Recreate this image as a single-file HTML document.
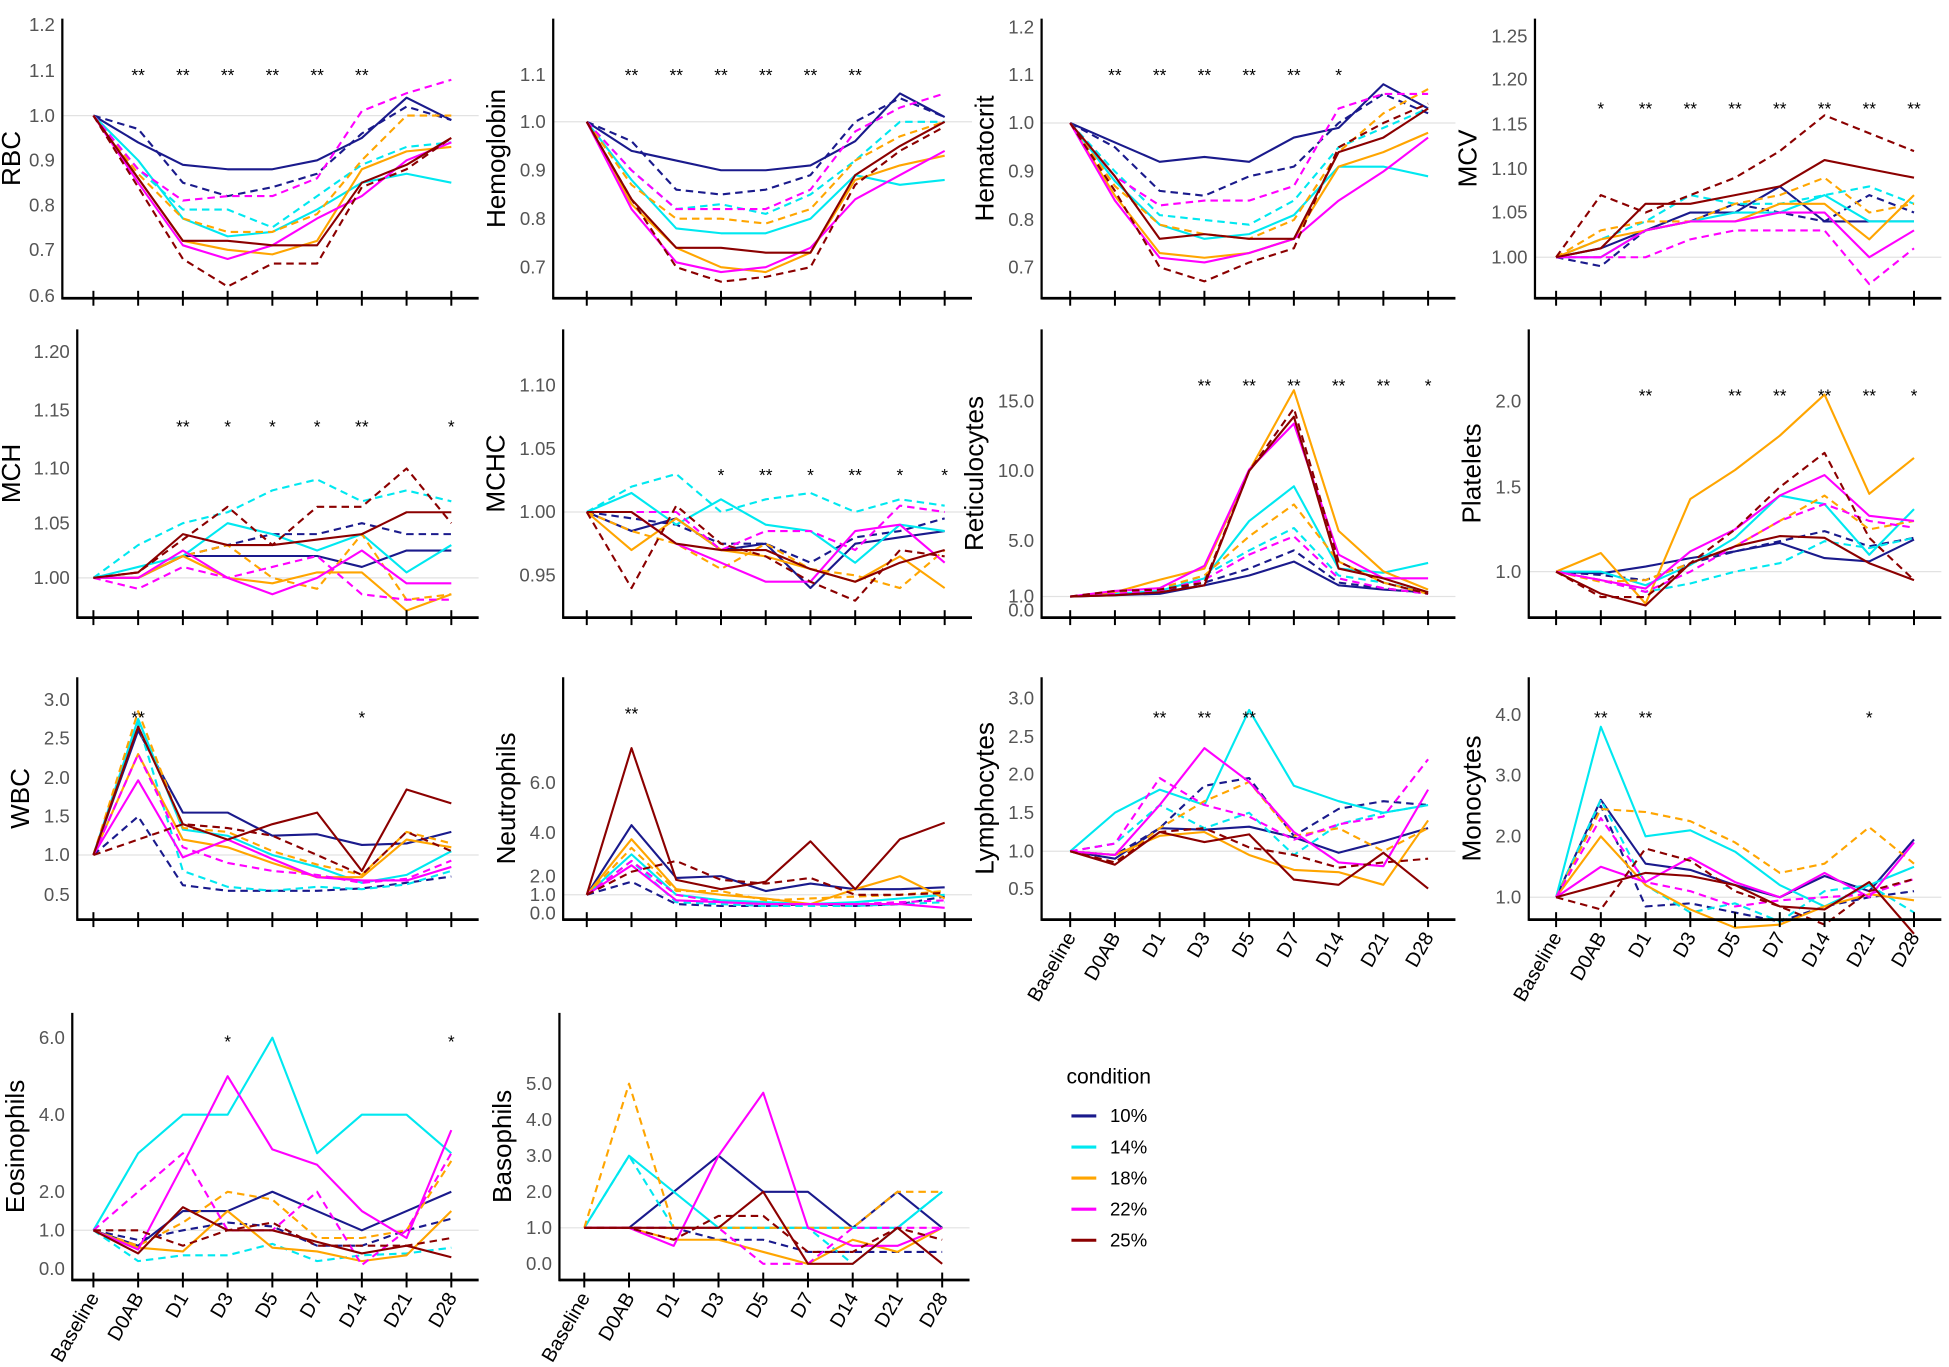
<!DOCTYPE html>
<html><head><meta charset="utf-8"><style>
html,body{margin:0;padding:0;background:#fff;}
svg{display:block;}
text{font-family:"Liberation Sans",sans-serif;}
</style></head><body>
<svg id="s" width="1949" height="1367" viewBox="0 0 1568 1100" xmlns="http://www.w3.org/2000/svg"></svg>
<script>
const C={10:"#1a1a8c",14:"#00e8f0",18:"#ffa500",22:"#ff00ff",25:"#8b0000"};
const P=[
{t:"RBC",ax:50,x0:75,top:15,ay:240,ticks:[[1.2,20],[1.1,57],[1.0,93],[0.9,129],[0.8,165],[0.7,201],[0.6,238]],sy:60,
st:["","**","**","**","**","**","**","",""],
d:{"10s":[1,.94,.89,.88,.88,.90,.95,1.04,.99],"10d":[1,.97,.85,.82,.84,.87,.96,1.02,.99],
"14s":[1,.90,.77,.73,.74,.79,.85,.87,.85],"14d":[1,.88,.79,.79,.75,.82,.89,.93,.94],
"18s":[1,.86,.72,.70,.69,.72,.88,.92,.93],"18d":[1,.87,.77,.74,.74,.78,.90,1.0,1.0],
"22s":[1,.85,.71,.68,.71,.77,.82,.90,.94],"22d":[1,.88,.81,.82,.82,.86,1.01,1.05,1.08],
"25s":[1,.86,.72,.72,.71,.71,.85,.89,.95],"25d":[1,.84,.68,.62,.67,.67,.84,.88,.95]}},
{t:"Hemoglobin",ax:445,x0:472,top:15,ay:240,ticks:[[1.1,60],[1.0,98],[0.9,137],[0.8,176],[0.7,215]],sy:60,
st:["","**","**","**","**","**","**","",""],
d:{"10s":[1,.94,.92,.90,.90,.91,.96,1.06,1.01],"10d":[1,.96,.86,.85,.86,.89,1.0,1.05,1.01],
"14s":[1,.88,.78,.77,.77,.80,.89,.87,.88],"14d":[1,.90,.82,.83,.81,.85,.92,1.0,1.0],
"18s":[1,.83,.74,.70,.69,.73,.88,.91,.93],"18d":[1,.87,.80,.80,.79,.82,.92,.97,1.0],
"22s":[1,.82,.71,.69,.70,.74,.84,.89,.94],"22d":[1,.90,.82,.82,.82,.86,.98,1.03,1.06],
"25s":[1,.84,.74,.74,.73,.73,.89,.95,1.0],"25d":[1,.84,.70,.67,.68,.70,.87,.94,.99]}},
{t:"Hematocrit",ax:838,x0:861,top:15,ay:240,ticks:[[1.2,22],[1.1,60],[1.0,99],[0.9,138],[0.8,177],[0.7,215]],sy:60,
st:["","**","**","**","**","**","*","",""],
d:{"10s":[1,.96,.92,.93,.92,.97,.99,1.08,1.03],"10d":[1,.95,.86,.85,.89,.91,1.0,1.06,1.02],
"14s":[1,.88,.79,.76,.77,.81,.91,.91,.89],"14d":[1,.90,.81,.80,.79,.84,.95,.99,1.03],
"18s":[1,.85,.73,.72,.73,.76,.91,.94,.98],"18d":[1,.87,.79,.77,.76,.80,.94,1.02,1.07],
"22s":[1,.84,.72,.71,.73,.76,.84,.90,.97],"22d":[1,.89,.83,.84,.84,.87,1.03,1.06,1.06],
"25s":[1,.89,.76,.77,.76,.76,.94,.97,1.03],"25d":[1,.86,.70,.67,.71,.74,.95,1.0,1.04]}},
{t:"MCV",ax:1235,x0:1252,top:15,ay:240,ticks:[[1.25,29],[1.20,64],[1.15,100],[1.10,136],[1.05,171],[1.00,207]],sy:87,
st:["","*","**","**","**","**","**","**","**"],
d:{"10s":[1,1.01,1.03,1.05,1.05,1.08,1.04,1.04,1.04],"10d":[1,.99,1.03,1.04,1.06,1.05,1.04,1.07,1.05],
"14s":[1,1.0,1.03,1.04,1.05,1.05,1.07,1.04,1.04],"14d":[1,1.02,1.04,1.07,1.06,1.06,1.07,1.08,1.06],
"18s":[1,1.02,1.03,1.04,1.04,1.06,1.06,1.02,1.07],"18d":[1,1.03,1.04,1.04,1.06,1.07,1.09,1.05,1.06],
"22s":[1,1.0,1.03,1.04,1.04,1.05,1.05,1.0,1.03],"22d":[1,1.0,1.0,1.02,1.03,1.03,1.03,.97,1.01],
"25s":[1,1.01,1.06,1.06,1.07,1.08,1.11,1.10,1.09],"25d":[1,1.07,1.05,1.07,1.09,1.12,1.16,1.14,1.12]}},
{t:"MCH",ax:62,x0:75,top:265,ay:497,ticks:[[1.20,283],[1.15,330],[1.10,377],[1.05,421],[1.00,465]],sy:343,
st:["","","**","*","*","*","**","","*"],
d:{"10s":[1,1.0,1.02,1.02,1.02,1.02,1.01,1.025,1.025],"10d":[1,1.0,1.02,1.03,1.04,1.04,1.05,1.04,1.04],
"14s":[1,1.01,1.02,1.05,1.04,1.025,1.04,1.005,1.03],"14d":[1,1.03,1.05,1.06,1.08,1.09,1.07,1.08,1.07],
"18s":[1,1.0,1.02,1.0,.995,1.005,1.005,.97,.985],"18d":[1,1.0,1.02,1.03,1.0,.99,1.04,.98,.985],
"22s":[1,1.0,1.025,1.0,.985,1.0,1.025,.995,.995],"22d":[1,.99,1.01,1.0,1.01,1.02,.985,.98,.98],
"25s":[1,1.005,1.04,1.03,1.03,1.035,1.04,1.06,1.06],"25d":[1,1.005,1.035,1.065,1.03,1.065,1.065,1.1,1.05]}},
{t:"MCHC",ax:453,x0:472,top:265,ay:497,ticks:[[1.10,310],[1.05,361],[1.00,412],[0.95,463]],sy:382,
st:["","","","*","**","*","**","*","*"],
d:{"10s":[1,.985,.995,.97,.975,.94,.975,.98,.985],"10d":[1,.995,.99,.975,.975,.96,.98,.985,.995],
"14s":[1,1.015,.99,1.01,.99,.985,.96,.99,.985],"14d":[1,1.02,1.03,1.0,1.01,1.015,1.0,1.01,1.005],
"18s":[1,.97,.995,.97,.965,.955,.945,.965,.94],"18d":[1,.985,.975,.955,.975,.955,.95,.94,.97],
"22s":[1,1.0,.975,.96,.945,.945,.985,.99,.96],"22d":[1,1.0,1.0,.97,.985,.985,.97,1.005,1.0],
"25s":[1,1.0,.975,.97,.97,.955,.945,.96,.97],"25d":[1,.94,1.005,.975,.965,.945,.93,.97,.965]}},
{t:"Reticulocytes",ax:838,x0:861,top:265,ay:497,ticks:[[15,323],[10,379],[5,435],[1,480],[0,491]],sy:310,
st:["","","","**","**","**","**","**","*"],
d:{"10s":[1,1.1,1.2,1.8,2.5,3.5,1.8,1.5,1.3],"10d":[1,1.2,1.3,2.0,3.0,4.3,2.0,1.6,1.2],
"14s":[1,1.2,1.4,2.3,6.4,8.9,3.0,2.7,3.4],"14d":[1,1.3,1.5,2.5,4.3,5.9,2.5,2.0,1.3],
"18s":[1,1.3,2.2,3.0,10.0,15.8,5.7,2.8,1.5],"18d":[1,1.2,1.6,2.5,5.3,7.6,3.5,2.0,1.2],
"22s":[1,1.4,1.6,3.2,10.1,13.4,4.0,2.3,2.3],"22d":[1,1.2,1.4,2.2,4.0,5.3,2.3,1.6,1.2],
"25s":[1,1.1,1.3,1.8,10.0,13.9,3.0,2.3,1.3],"25d":[1,1.4,1.5,2.0,10.0,14.5,3.5,2.0,1.2]}},
{t:"Platelets",ax:1230,x0:1252,top:265,ay:497,ticks:[[2.0,323],[1.5,392],[1.0,460]],sy:318,
st:["","","**","","**","**","**","**","*"],
d:{"10s":[1,.99,1.03,1.08,1.12,1.17,1.08,1.06,1.19],"10d":[1,.98,.95,1.05,1.12,1.18,1.24,1.15,1.20],
"14s":[1,1.0,.92,1.04,1.20,1.45,1.40,1.10,1.37],"14d":[1,.95,.88,.93,1.0,1.05,1.18,1.14,1.20],
"18s":[1,1.11,.81,1.43,1.60,1.80,2.04,1.46,1.67],"18d":[1,.94,.95,1.05,1.15,1.30,1.45,1.25,1.30],
"22s":[1,.95,.90,1.12,1.25,1.45,1.57,1.33,1.30],"22d":[1,.95,.88,1.0,1.15,1.30,1.40,1.30,1.26],
"25s":[1,.87,.80,1.05,1.15,1.21,1.20,1.05,.95],"25d":[1,.85,.85,1.05,1.25,1.50,1.70,1.20,.95]}},
{t:"WBC",ax:62,x0:75,top:545,ay:740,ticks:[[3.0,563],[2.5,594],[2.0,626],[1.5,657],[1.0,688],[0.5,720]],sy:577,
st:["","**","","","","","*","",""],
d:{"10s":[1,2.6,1.55,1.55,1.25,1.27,1.13,1.15,1.3],"10d":[1,1.5,.62,.55,.55,.55,.58,.65,.73],
"14s":[1,2.75,1.33,1.25,1.0,.85,.65,.75,1.05],"14d":[1,2.7,.8,.6,.55,.6,.57,.63,.8],
"18s":[1,2.3,1.2,1.1,.9,.72,.72,1.2,1.1],"18d":[1,2.85,1.35,1.3,1.05,.88,.75,1.3,1.15],
"22s":[1,1.97,.97,1.2,.95,.72,.68,.68,.85],"22d":[1,2.3,1.1,.9,.8,.75,.65,.7,.93],
"25s":[1,2.65,1.4,1.2,1.4,1.55,.8,1.85,1.67],"25d":[1,1.2,1.4,1.35,1.25,1.0,.75,1.3,1.05]}},
{t:"Neutrophils",ax:453,x0:472,top:545,ay:740,ticks:[[6.0,630],[4.0,670],[2.0,705],[1.0,720],[0.0,735]],extra:[[6.8,598]],sy:574,
st:["","**","","","","","","",""],
d:{"10s":[1,4.3,1.9,2.0,1.2,1.6,1.3,1.3,1.4],"10d":[1,1.7,.5,.4,.4,.5,.4,.5,.9],
"14s":[1,3.0,1.0,.7,.6,.5,.6,.8,1.0],"14d":[1,2.7,.6,.5,.4,.4,.4,.5,.6],
"18s":[1,3.7,1.3,1.0,.8,.5,1.3,2.0,.8],"18d":[1,3.3,1.2,1.2,.7,.8,.9,1.0,1.2],
"22s":[1,2.5,.7,.6,.5,.5,.5,.5,.3],"22d":[1,2.7,1.0,.6,.5,.5,.5,.6,.7],
"25s":[1,6.7,1.8,1.3,1.7,3.6,1.3,3.7,4.4],"25d":[1,2.2,2.7,1.8,1.6,1.9,1.0,1.0,1.1]}},
{t:"Lymphocytes",ax:838,x0:861,top:545,ay:740,ticks:[[3.0,562],[2.5,593],[2.0,623],[1.5,654],[1.0,685],[0.5,715]],sy:577,xl:1,
st:["","","**","**","**","","","",""],
d:{"10s":[1,.9,1.3,1.28,1.32,1.18,.98,1.13,1.3],"10d":[1,.95,1.3,1.85,1.95,1.2,1.55,1.65,1.6],
"14s":[1,1.5,1.8,1.6,2.85,1.85,1.65,1.5,1.6],"14d":[1,1.1,1.6,1.3,1.5,.95,1.35,1.5,1.6],
"18s":[1,.95,1.2,1.25,.95,.75,.72,.55,1.4],"18d":[1,.85,1.3,1.65,1.9,1.2,1.3,1.0,1.3],
"22s":[1,.95,1.6,2.35,1.9,1.25,.85,.8,1.8],"22d":[1,1.1,1.95,1.6,1.45,1.15,1.35,1.45,2.2],
"25s":[1,.82,1.25,1.12,1.22,.62,.55,.98,.5],"25d":[1,.85,1.25,1.3,1.05,.95,.78,.85,.9]}},
{t:"Monocytes",ax:1230,x0:1252,top:545,ay:740,ticks:[[4.0,575],[3.0,624],[2.0,673],[1.0,722]],sy:577,xl:1,
st:["","**","**","","","","","*",""],
d:{"10s":[1,2.6,1.55,1.45,1.2,1.0,1.35,1.1,1.95],"10d":[1,2.5,.85,.9,.75,.6,.85,1.0,1.1],
"14s":[1,3.8,2.0,2.1,1.75,1.2,.85,1.2,1.5],"14d":[1,2.6,1.2,.75,.9,.6,1.1,1.2,.75],
"18s":[1,2.0,1.2,.8,.5,.55,.85,1.05,.95],"18d":[1,2.45,2.4,2.25,1.9,1.4,1.55,2.15,1.55],
"22s":[1,1.5,1.25,1.65,1.25,1.0,1.4,1.0,1.9],"22d":[1,2.3,1.25,1.1,.85,.95,1.0,1.05,1.3],
"25s":[1,1.2,1.4,1.35,1.2,.85,.8,1.25,.4],"25d":[1,.8,1.8,1.6,1.1,.85,.55,1.1,1.3]}},
{t:"Eosinophils",ax:58,x0:75,top:815,ay:1030,ticks:[[6.0,835],[4.0,897],[2.0,959],[1.0,990],[0.0,1021]],sy:838,xl:1,
st:["","","","*","","","","","*"],
d:{"10s":[1,.6,1.5,1.5,2.0,1.5,1.0,1.5,2.0],"10d":[1,.75,1.0,1.2,1.1,.6,.6,1.0,1.3],
"14s":[1,3,4,4,6,3,4,4,3],"14d":[1,.2,.35,.35,.65,.2,.35,.4,.55],
"18s":[1,.55,.45,1.5,.55,.45,.2,.35,1.5],"18d":[1,.6,1.2,2.0,1.8,.8,.8,1.0,2.8],
"22s":[1,.5,2.7,5.0,3.1,2.7,1.5,.8,3.6],"22d":[1,2.0,3.0,1.0,1.0,2.0,0.1,1.0,3.0],
"25s":[1,.4,1.6,1.0,1.0,.7,.4,.6,.3],"25d":[1,1.0,.6,1.0,1.2,.6,.6,.6,.8]}},
{t:"Basophils",ax:450,x0:470,top:815,ay:1030,ticks:[[5.0,872],[4.0,901],[3.0,930],[2.0,959],[1.0,988],[0.0,1017]],sy:-100,xl:1,
st:["","","","","","","","",""],
d:{"10s":[1,1,2,3,2,2,1,2,1],"10d":[1,1,1,.67,.67,.33,.33,.33,.33],
"14s":[1,3,2,1,1,1,1,1,2],"14d":[1,3,1,1,1,1,0,1,2],
"18s":[1,1,.67,.67,.33,0,.67,.33,1],"18d":[1,5,1,1,1,1,1,2,2],
"22s":[1,1,.5,3,4.75,1,.5,.5,1],"22d":[1,1,1,1,0,0,1,1,1],
"25s":[1,1,1,1,2,0,0,1,0],"25d":[1,1,.67,1.33,1.33,.33,.33,1,.67]}}
];
const LAB=["Baseline","D0AB","D1","D3","D5","D7","D14","D21","D28"];
const STEP=36;
let h="";
function ymap(p,v){const t=p.ticks.concat(p.extra||[]).sort((a,b)=>a[0]-b[0]);
 let i=0;while(i<t.length-2&&v>t[i+1][0])i++;
 const a=t[i],b=t[i+1];return a[1]+(v-a[0])*(b[1]-a[1])/(b[0]-a[0]);}
for(const p of P){
 const xe=p.x0+8*STEP+22;
 const g=ymap(p,1);
 h+=`<line x1="${p.ax}" x2="${xe}" y1="${g}" y2="${g}" stroke="#e2e2e2" stroke-width="1"/>`;
 for(const c of [10,14,18,22,25]){for(const k of ["d","s"]){const v=p.d[c+k];
  const pts=v.map((y,i)=>(p.x0+i*STEP).toFixed(1)+","+ymap(p,y).toFixed(1)).join(" ");
  h+=`<polyline points="${pts}" fill="none" stroke="${C[c]}" stroke-width="1.7" ${k=="d"?'stroke-dasharray="6,4"':''} stroke-linejoin="round"/>`;}}
 h+=`<line x1="${p.ax}" x2="${p.ax}" y1="${p.top}" y2="${p.ay+1}" stroke="#000" stroke-width="1.8"/>`;
 h+=`<line x1="${p.ax}" x2="${xe}" y1="${p.ay}" y2="${p.ay}" stroke="#000" stroke-width="2.2"/>`;
 for(let i=0;i<9;i++){const x=p.x0+i*STEP;
  h+=`<line x1="${x}" x2="${x}" y1="${p.ay-6}" y2="${p.ay+6}" stroke="#000" stroke-width="1.6"/>`;
  if(p.st[i])h+=`<text x="${x}" y="${p.sy+5}" font-size="14" text-anchor="middle" fill="#000">${p.st[i]}</text>`;
  if(p.xl)h+=`<text transform="translate(${x+5},${p.ay+14}) rotate(-60)" font-size="16" text-anchor="end" fill="#000">${LAB[i]}</text>`;}
 const dec=(p.t=="MCV"||p.t=="MCH"||p.t=="MCHC")?2:1;
 let maxw=0;
 for(const [v,y] of p.ticks){
  const s=v.toFixed(dec); maxw=Math.max(maxw,s.length*8.3);
  h+=`<text x="${p.ax-6}" y="${y+5}" font-size="15" text-anchor="end" fill="#555">${s}</text>`;}
 const cy=(p.top+p.ay)/2;
 const tx=Math.max(16,p.ax-6-maxw-8);
 h+=`<text transform="translate(${tx},${cy}) rotate(-90)" font-size="21" text-anchor="middle" fill="#000">${p.t}</text>`;
}
h+=`<text x="858" y="872" font-size="17" fill="#000">condition</text>`;
[10,14,18,22,25].forEach((c,i)=>{const y=898+i*25;
 h+=`<line x1="862" x2="882" y1="${y}" y2="${y}" stroke="${C[c]}" stroke-width="2.5"/>`;
 h+=`<text x="893" y="${y+5}" font-size="15" fill="#000">${c}%</text>`;});
document.getElementById("s").innerHTML=h;
</script>
</body></html>
